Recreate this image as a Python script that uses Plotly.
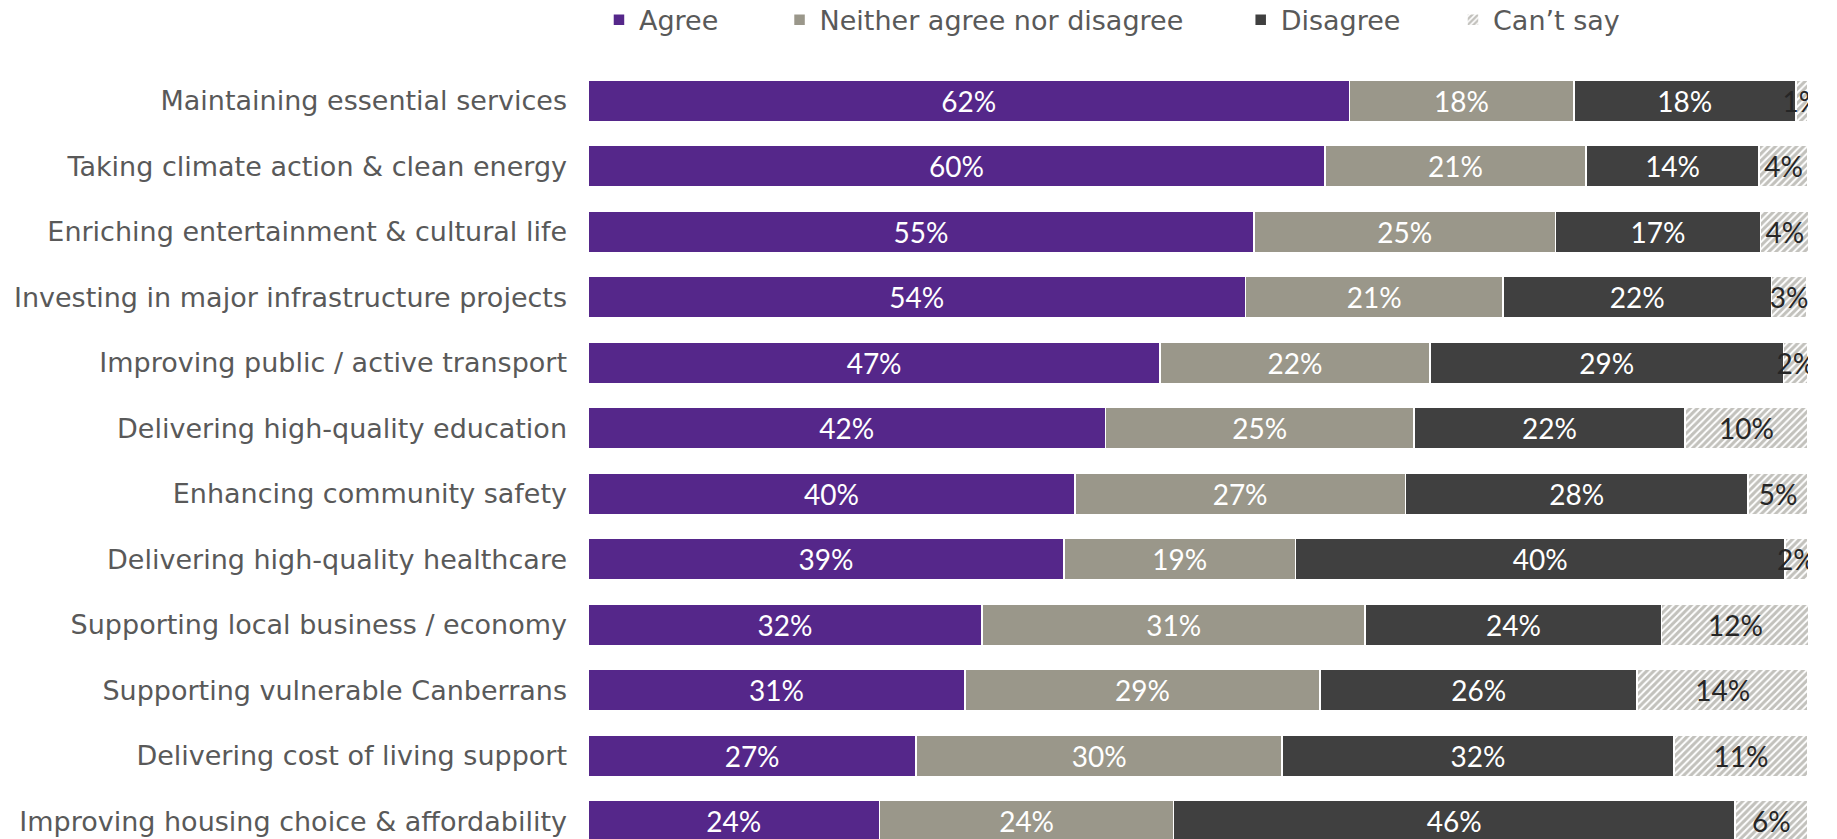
import plotly.graph_objects as go

categories = [
    "Maintaining essential services",
    "Taking climate action & clean energy",
    "Enriching entertainment & cultural life",
    "Investing in major infrastructure projects",
    "Improving public / active transport",
    "Delivering high-quality education",
    "Enhancing community safety",
    "Delivering high-quality healthcare",
    "Supporting local business / economy",
    "Supporting vulnerable Canberrans",
    "Delivering cost of living support",
    "Improving housing choice & affordability",
]

agree = [62.4, 60.4, 54.6, 53.9, 46.9, 42.4, 39.9, 39.0, 32.3, 30.9, 26.9, 23.9]
neither = [18.4, 21.4, 24.7, 21.1, 22.1, 25.3, 27.1, 19.0, 31.4, 29.1, 30.0, 24.1]
disagree = [18.2, 14.2, 16.8, 22.0, 29.0, 22.2, 28.1, 40.1, 24.3, 26.0, 32.1, 46.0]
cant_say = [1.0, 4.0, 4.0, 2.9, 2.0, 10.1, 4.9, 1.9, 12.1, 14.0, 11.0, 6.0]

series_names = ["Agree", "Neither agree nor disagree", "Disagree", "Can\u2019t say"]
series_values = [agree, neither, disagree, cant_say]
colors = ["#55278A", "#9A978A", "#404040", "#FFFFFF"]
text_colors = ["#FFFFFF", "#FFFFFF", "#FFFFFF", "#262626"]
legend_ids = ["legend", "legend2", "legend3", "legend4"]
legend_x = [0.009, 0.157, 0.535, 0.709]

LABEL_FONT = "DejaVu Sans"
NUM_FONT = "Lato"

fig = go.Figure()
for name, vals, col, tcol, lid in zip(series_names, series_values, colors, text_colors, legend_ids):
    marker = dict(color=col, line=dict(color="#FFFFFF", width=1.5))
    if name.startswith("Can"):
        marker = dict(
            color="#FFFFFF",
            line=dict(color="#FFFFFF", width=1.5),
            pattern=dict(shape="/", fgcolor="#85837A", bgcolor="#FFFFFF", size=5, solidity=0.6),
        )
    fig.add_trace(go.Bar(
        name=name,
        y=list(range(len(categories))),
        x=vals,
        orientation="h",
        marker=marker,
        text=vals,
        texttemplate="%{x:.0f}%",
        textposition="inside",
        insidetextanchor="middle",
        textangle=0,
        textfont=dict(family=NUM_FONT, size=28, color=tcol),
        legend=lid,
        hoverinfo="skip",
    ))

legend_common = dict(
    orientation="h",
    yref="container",
    y=0.976,
    yanchor="middle",
    xanchor="left",
    font=dict(family=LABEL_FONT, size=27, color="#595959"),
    bgcolor="rgba(0,0,0,0)",
)

layout_legends = {}
for lid, lx in zip(legend_ids, legend_x):
    layout_legends[lid] = dict(legend_common, x=lx)

fig.update_layout(
    width=1837,
    height=839,
    margin=dict(l=588, r=29, t=68, b=0, pad=0, autoexpand=False),
    barmode="stack",
    bargap=0.363,
    plot_bgcolor="#FFFFFF",
    paper_bgcolor="#FFFFFF",
    showlegend=True,
    uniformtext=dict(minsize=28, mode="show"),
    **layout_legends,
)
fig.update_xaxes(range=[0, 100], visible=False, fixedrange=True)
fig.update_yaxes(
    range=[11.27, -0.5],
    tickmode="array",
    tickvals=list(range(len(categories))),
    ticktext=categories,
    showgrid=False,
    zeroline=False,
    showline=False,
    ticks="",
    ticklabelstandoff=20,
    tickfont=dict(family=LABEL_FONT, size=27, color="#595959"),
    fixedrange=True,
)

fig.write_html(
    "out.html",
    config={"displayModeBar": False},
    post_script="document.body.style.margin='0';",
)
